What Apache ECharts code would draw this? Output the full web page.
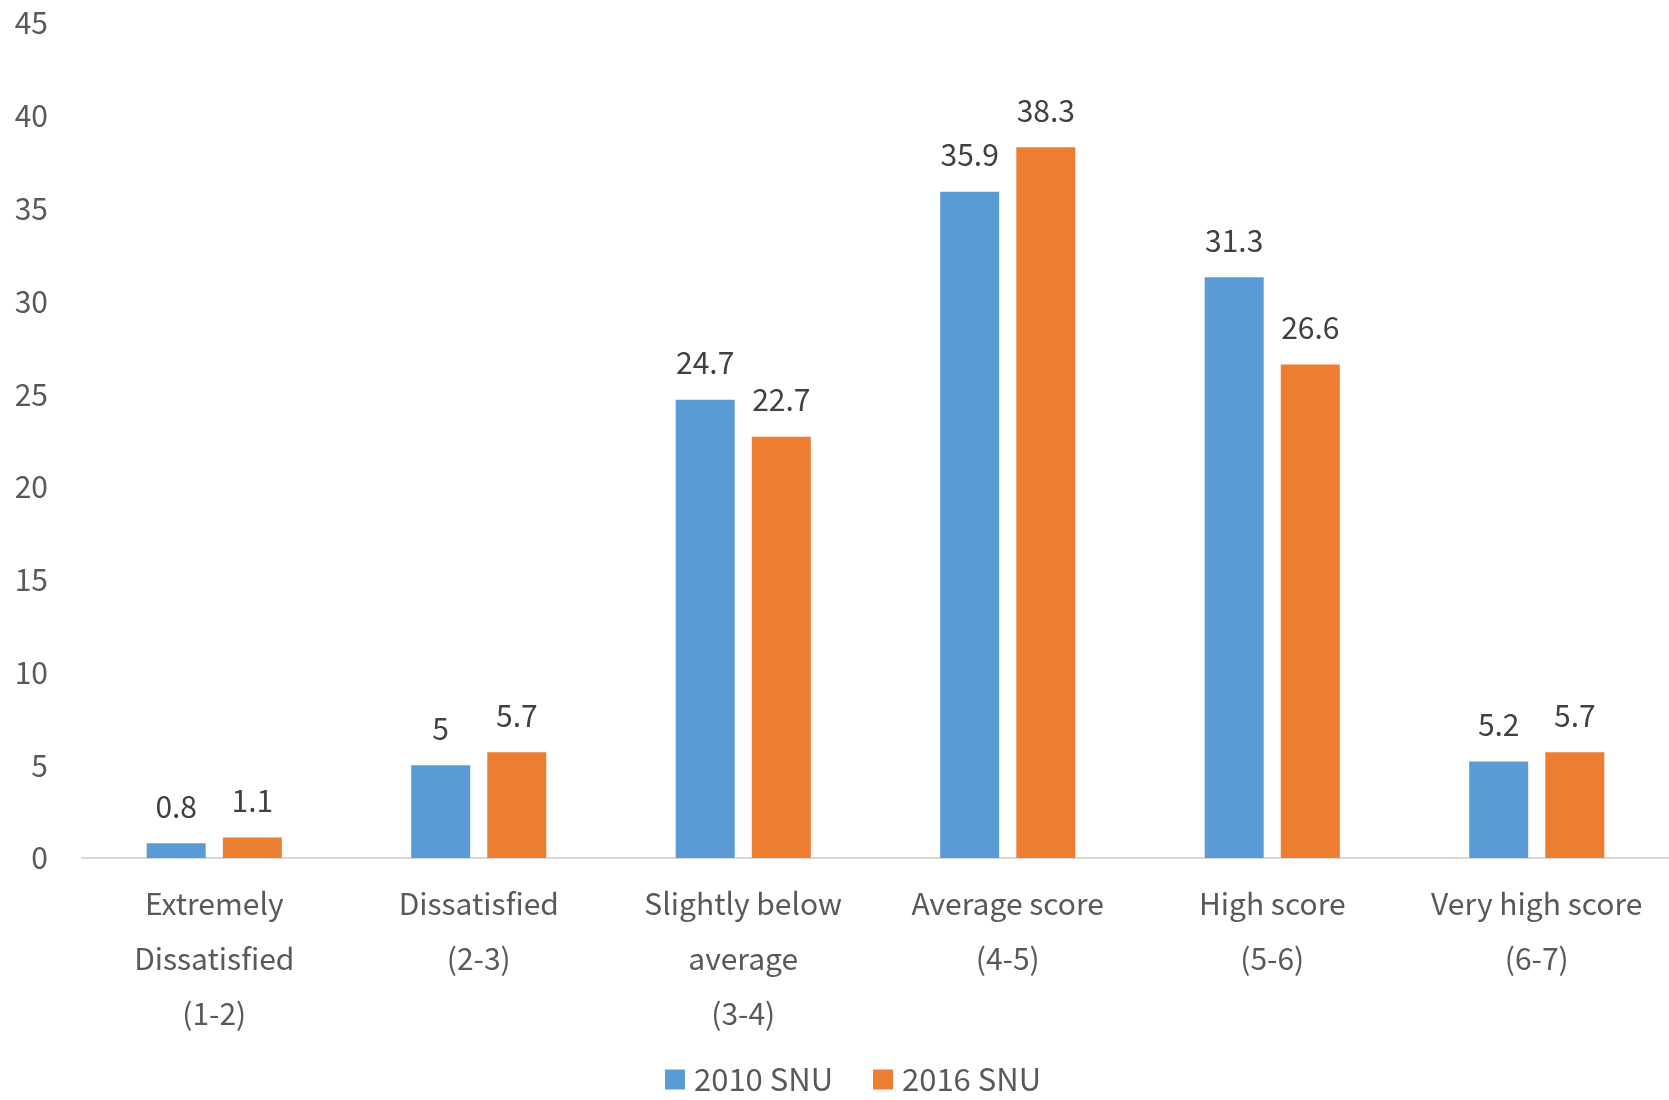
<!DOCTYPE html>
<html><head><meta charset="utf-8">
<script src="https://cdn.jsdelivr.net/npm/echarts@6/dist/echarts.min.js"></script>
<style>html,body{margin:0;padding:0;background:#fff;}#c{width:1669px;height:1100px;}</style>
</head><body><div id="c"></div>
<script>
const categories = ["Extremely\nDissatisfied\n(1-2)", "Dissatisfied\n(2-3)", "Slightly below\naverage\n(3-4)", "Average score\n(4-5)", "High score\n(5-6)", "Very high score\n(6-7)"];
const series2010 = [0.8, 5, 24.7, 35.9, 31.3, 5.2];
const series2016 = [1.1, 5.7, 22.7, 38.3, 26.6, 5.7];
const seriesNames = ["2010 SNU", "2016 SNU"];
const FONT = "'Noto Sans CJK KR', 'Noto Sans', sans-serif";
const chart = echarts.init(document.getElementById('c'), null, {renderer: 'canvas'});
const label = {show: true, position: 'top', distance: 22, color: '#404040', fontSize: 30, fontFamily: FONT};
chart.setOption({
  animation: false,
  backgroundColor: '#fff',
  grid: {left: 82, width: 1592, top: 23, height: 835, containLabel: false},
  legend: {
    top: 1064, left: 665, itemWidth: 20, itemHeight: 20, itemGap: 36,
    icon: 'rect', padding: 0,
    textStyle: {color: '#595959', fontSize: 31, fontFamily: FONT, lineHeight: 30, width: 143, padding: [0,0,0,4]},
    data: seriesNames
  },
  xAxis: {
    type: 'category', data: categories,
    axisLine: {lineStyle: {color: '#D9D9D9', width: 2}},
    axisTick: {show: false},
    axisLabel: {color: '#595959', fontSize: 30, fontFamily: FONT, lineHeight: 55, margin: 18, interval: 0}
  },
  yAxis: {
    type: 'value', min: 0, max: 45, interval: 5,
    axisLine: {show: false}, axisTick: {show: false}, splitLine: {show: false},
    axisLabel: {color: '#595959', fontSize: 30, fontFamily: FONT, margin: 34}
  },
  series: [
    {name: seriesNames[0], type: 'bar', data: series2010, barWidth: 59, barGap: '29%', itemStyle: {color: '#5B9BD5'}, label: label},
    {name: seriesNames[1], type: 'bar', data: series2016, barWidth: 59, barGap: '29%', itemStyle: {color: '#ED7D31'}, label: label}
  ]
});
</script></body></html>
